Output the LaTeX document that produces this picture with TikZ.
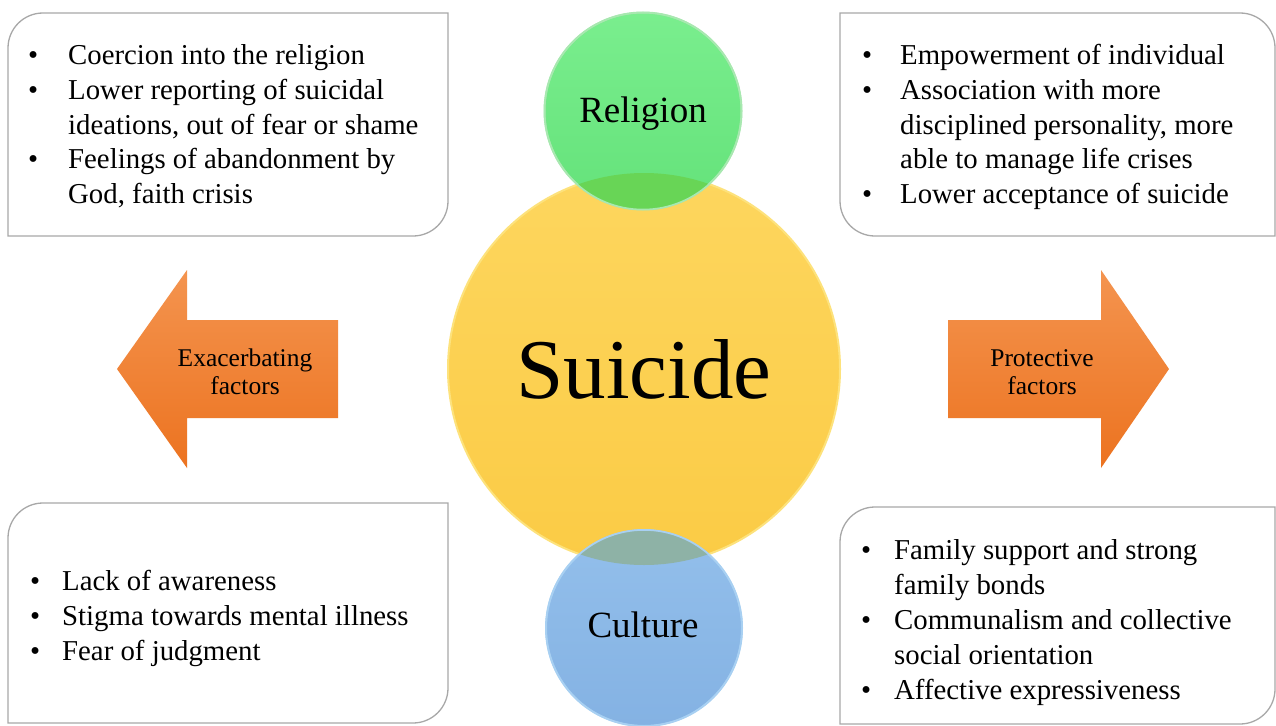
\documentclass[tikz,border=0pt]{standalone}
\usepackage{fontspec}
\setmainfont{Liberation Serif}
\definecolor{boxline}{HTML}{A8A8A8}
\definecolor{arrtop}{HTML}{F4944F}
\definecolor{arrbot}{HTML}{EC7320}
\definecolor{sutop}{HTML}{FDD65E}
\definecolor{subot}{HTML}{FBCB45}
\definecolor{surim}{HTML}{FDE27C}
\definecolor{retop}{HTML}{7AEE8E}
\definecolor{rebot}{HTML}{64E27A}
\definecolor{rerim}{HTML}{A8E8B0}
\definecolor{cutop}{HTML}{93BFEB}
\definecolor{cubot}{HTML}{84B2E3}
\definecolor{curim}{HTML}{A8D0F2}
\definecolor{reov}{HTML}{68D556}
\definecolor{cuov}{HTML}{8EB2A6}
\newcommand\bulline[2]{\makebox[#1][l]{\textbullet}#2}
\newcommand\contline[2]{\hspace*{#1}#2}
\tikzset{
  panel/.style={draw=boxline, line width=1.3pt, fill=white},
  arrowshape/.style={top color=arrtop, bottom color=arrbot, draw=none},
  arrowtext/.style={align=center, font=\fontsize{25.5}{28}\selectfont, inner sep=0pt},
  listtext/.style={anchor=base west, inner sep=0pt},
  disc/.style={circle, inner sep=0pt, outer sep=0pt, line width=2pt},
  disclabel/.style={anchor=base, inner sep=0pt},
}
\begin{document}
\begin{tikzpicture}[x=1pt, y=-1pt]
\fill[white] (0,0) rectangle (1276,725);
\useasboundingbox (0,0) rectangle (1276,725);

% panels
\path[panel] (8,48) -- (8,236) -- (413,236) arc[start angle=270, end angle=360, radius=35pt]
  -- (448,13) -- (43,13) arc[start angle=90, end angle=180, radius=35pt] -- cycle;
\path[panel] (840,13) -- (1240,13) arc[start angle=90, end angle=0, radius=35pt]
  -- (1275,236) -- (875,236) arc[start angle=270, end angle=180, radius=35pt] -- cycle;
\path[panel] (8,538) -- (8,723) -- (413,723) arc[start angle=270, end angle=360, radius=35pt]
  -- (448,503) -- (43,503) arc[start angle=90, end angle=180, radius=35pt] -- cycle;
\path[panel] (840,542) -- (840,724) -- (1240,724) arc[start angle=270, end angle=360, radius=35pt]
  -- (1275,507) -- (875,507) arc[start angle=90, end angle=180, radius=35pt] -- cycle;

% panel texts
\node[listtext] (tltext) at (28,65) {\parbox[t]{420pt}{\fontsize{28.8}{34.6}\selectfont\raggedright
  \bulline{40pt}{Coercion into the religion}\\
  \bulline{40pt}{Lower reporting of suicidal}\\
  \contline{40pt}{ideations, out of fear or shame}\\
  \bulline{40pt}{Feelings of abandonment by}\\
  \contline{40pt}{God, faith crisis}}};
\node[listtext] (trtext) at (862,65) {\parbox[t]{420pt}{\fontsize{28.8}{34.6}\selectfont\raggedright
  \bulline{38pt}{Empowerment of individual}\\
  \bulline{38pt}{Association with more}\\
  \contline{38pt}{disciplined personality, more}\\
  \contline{38pt}{able to manage life crises}\\
  \bulline{38pt}{Lower acceptance of suicide}}};
\node[listtext] (bltext) at (30,590) {\parbox[t]{420pt}{\fontsize{28.8}{35}\selectfont\raggedright
  \bulline{32pt}{Lack of awareness}\\
  \bulline{32pt}{Stigma towards mental illness}\\
  \bulline{32pt}{Fear of judgment}}};
\node[listtext] (brtext) at (861,559) {\parbox[t]{420pt}{\fontsize{28.8}{35}\selectfont\raggedright
  \bulline{33pt}{Family support and strong}\\
  \contline{33pt}{family bonds}\\
  \bulline{33pt}{Communalism and collective}\\
  \contline{33pt}{social orientation}\\
  \bulline{33pt}{Affective expressiveness}}};

% arrows
\path[arrowshape] (117,369) -- (187,270) -- (187,320) -- (338,320) -- (338,418)
  -- (187,418) -- (187,468) -- cycle;
\path[arrowshape] (1169,369) -- (1101,270) -- (1101,320) -- (948,320) -- (948,418)
  -- (1101,418) -- (1101,468) -- cycle;
\node[arrowtext] (exac) at (245,372) {Exacerbating\\factors};
\node[arrowtext] (prot) at (1042,372) {Protective\\factors};

% circles
\node[disc, minimum size=392pt, top color=sutop, bottom color=subot, draw=surim] (suicide) at (644,369) {};
\node[disc, minimum size=197pt, top color=retop, bottom color=rebot, draw=rerim] (religion) at (643,111) {};
\node[disc, minimum size=196pt, top color=cutop, bottom color=cubot, draw=curim] (culture) at (644,628) {};
\begin{scope}
  \clip (suicide.center) circle[radius=196pt];
  \fill[reov] (religion.center) circle[radius=98.5pt];
  \fill[cuov] (culture.center) circle[radius=98pt];
\end{scope}
\draw[rerim, line width=1.5pt] (religion.center) circle[radius=98.5pt];
\draw[curim, line width=1.5pt] (culture.center) circle[radius=98pt];

\node[disclabel, font=\fontsize{85}{90}\selectfont] (suicidetxt) at (644,398) {Suicide};
\node[disclabel, font=\fontsize{37}{40}\selectfont] (religiontxt) at (643,122) {Religion};
\node[disclabel, font=\fontsize{37}{40}\selectfont] (culturetxt) at (643,637) {Culture};
\end{tikzpicture}
\end{document}
